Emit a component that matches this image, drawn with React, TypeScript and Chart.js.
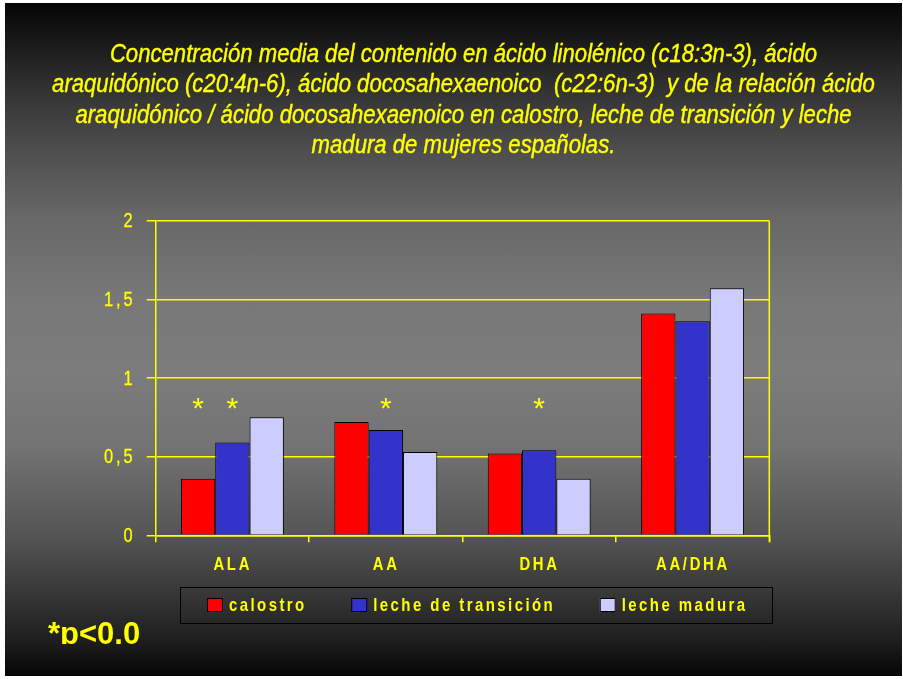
import React, { useEffect, useRef } from "react";
import { Chart, registerables } from "chart.js";

Chart.register(...registerables);

const categories = ["ALA", "AA", "DHA", "AA/DHA"];
const seriesNames = ["calostro", "leche de transición", "leche madura"];
const calostro = [0.36, 0.72, 0.52, 1.41];
const transicion = [0.59, 0.67, 0.54, 1.36];
const madura = [0.75, 0.53, 0.36, 1.57];
const seriesColors = ["#ff0000", "#3333cc", "#ccccff"];
const yTickValues = [0, 0.5, 1, 1.5, 2];
// significance markers: [category index, series index]
const markers: [number, number][] = [
  [0, 0],
  [0, 1],
  [1, 1],
  [2, 1],
];
const markerLevel = 0.85;
const titleLines = [
  "Concentración media del contenido en ácido linolénico (c18:3n-3), ácido",
  "araquidónico (c20:4n-6), ácido docosahexaenoico  (c22:6n-3)  y de la relación ácido",
  "araquidónico / ácido docosahexaenoico en calostro, leche de transición y leche",
  "madura de mujeres españolas.",
];
const footnote = "*p<0.0";

const YEL = "#ffff00";
const W = 897;
const H = 673;

function drawText(
  ctx: CanvasRenderingContext2D,
  s: string,
  x: number,
  y: number,
  font: string,
  align: "left" | "center" | "right",
  sx: number,
  ls: number,
  color: string,
  baseline: CanvasTextBaseline = "middle",
  stroke = 0
) {
  ctx.save();
  ctx.font = font;
  (ctx as any).letterSpacing = ls + "px";
  ctx.textBaseline = baseline;
  ctx.textAlign = "left";
  const w = (ctx.measureText(s).width - ls) * sx;
  let left = x;
  if (align === "center") left = x - w / 2;
  else if (align === "right") left = x - w;
  ctx.translate(left, y);
  ctx.scale(sx, 1);
  ctx.fillStyle = color;
  ctx.fillText(s, 0, 0);
  if (stroke > 0) {
    ctx.strokeStyle = color;
    ctx.lineWidth = stroke;
    ctx.strokeText(s, 0, 0);
  }
  ctx.restore();
  return w;
}

const fmt = (v: number) => String(v).replace(".", ",");

const decorPlugin = {
  id: "decor",
  afterDraw(chart: any) {
    const ctx: CanvasRenderingContext2D = chart.ctx;
    const { right, top, bottom } = chart.chartArea;
    const xs = chart.scales.x;
    const ys = chart.scales.y;

    // title
    titleLines.forEach((line, i) => {
      drawText(ctx, line, 458.5, 52 + i * 30.3, "italic 25px 'Liberation Sans'", "center", 0.885, 0, YEL, "middle", 0.4);
    });

    // right border of plot area
    ctx.save();
    ctx.strokeStyle = YEL;
    ctx.lineWidth = 1.5;
    ctx.beginPath();
    ctx.moveTo(right, top);
    ctx.lineTo(right, bottom + 7);
    ctx.stroke();
    ctx.restore();

    // y tick labels
    yTickValues.forEach((v) => {
      drawText(ctx, fmt(v), 127.5, ys.getPixelForValue(v) + 1, "20px 'Liberation Sans'", "right", 0.82, 3.5, YEL, "middle", 0.3);
    });

    // x labels
    categories.forEach((c, i) => {
      drawText(ctx, c, xs.getPixelForValue(i) - 1, bottom + 29, "bold 19px 'Liberation Sans'", "center", 0.78, 3.5, YEL);
    });

    // significance markers
    markers.forEach(([ci, di]) => {
      const bar = chart.getDatasetMeta(di).data[ci];
      drawText(ctx, "*", bar.x, ys.getPixelForValue(markerLevel) + 16, "30px 'Liberation Sans'", "center", 1, 0, YEL, "alphabetic");
    });

    // legend box
    const bx = 175, by = 584, bw = 592, bh = 36;
    ctx.save();
    ctx.strokeStyle = "#000";
    ctx.lineWidth = 1;
    ctx.strokeRect(bx + 0.5, by + 0.5, bw, bh);
    ctx.restore();
    const lfont = "bold 18.5px 'Liberation Sans'";
    const lsx = 0.81, lls = 3, sw = 16, sh = 14, gap1 = 6, gap2 = 47;
    ctx.save();
    ctx.font = lfont;
    (ctx as any).letterSpacing = lls + "px";
    const widths = seriesNames.map((n) => (ctx.measureText(n).width - lls) * lsx);
    ctx.restore();
    const total = widths.reduce((a, b) => a + b, 0) + seriesNames.length * (sw + gap1) + (seriesNames.length - 1) * gap2;
    let cx = bx + bw / 2 - total / 2;
    const cy = by + bh / 2;
    seriesNames.forEach((n, i) => {
      ctx.save();
      ctx.fillStyle = seriesColors[i];
      ctx.fillRect(cx, cy - sh / 2, sw, sh);
      ctx.strokeStyle = "#000";
      ctx.lineWidth = 1;
      ctx.strokeRect(cx + 0.5, cy - sh / 2 + 0.5, sw - 1, sh - 1);
      ctx.restore();
      cx += sw + gap1;
      drawText(ctx, n, cx, cy + 1, lfont, "left", lsx, lls, YEL);
      cx += widths[i] + gap2;
    });

    // footnote, clipped at bottom
    ctx.save();
    ctx.beginPath();
    ctx.rect(0, 600, 300, 41);
    ctx.clip();
    drawText(ctx, footnote, 43, 641, "bold 31px 'Liberation Sans'", "left", 1, 0, YEL, "alphabetic");
    ctx.restore();
  },
};

export default function App() {
  const ref = useRef<HTMLCanvasElement>(null);
  useEffect(() => {
    const canvas = ref.current!;
    const mk = (label: string, data: number[], color: string) => ({
      label,
      data,
      backgroundColor: color,
      borderColor: "#000",
      borderWidth: 1,
      categoryPercentage: 0.671,
      barPercentage: 1,
    });
    const chart = new Chart(canvas, {
      type: "bar",
      data: {
        labels: categories,
        datasets: [
          mk(seriesNames[0], calostro, seriesColors[0]),
          mk(seriesNames[1], transicion, seriesColors[1]),
          mk(seriesNames[2], madura, seriesColors[2]),
        ],
      },
      options: {
        responsive: false,
        maintainAspectRatio: false,
        animation: false,
        devicePixelRatio: 1,
        layout: { padding: { left: 0, right: 132.7, top: 217.7, bottom: 0 } },
        plugins: {
          legend: { display: false },
          title: { display: false },
          tooltip: { enabled: false },
        },
        scales: {
          x: {
            grid: { display: true, drawOnChartArea: false, drawTicks: true, tickLength: 7, color: YEL, lineWidth: 1.5, offset: true },
            border: { color: YEL, width: 1.5 },
            ticks: { display: false },
            afterFit: (s: any) => {
              s.height = 140.7;
            },
          },
          y: {
            min: 0,
            max: 2,
            ticks: { display: false, stepSize: 0.5 },
            grid: { color: YEL, lineWidth: 1.5, tickLength: 9, drawTicks: true },
            border: { color: YEL, width: 1.5 },
            afterFit: (s: any) => {
              s.width = 150.7;
            },
          },
        },
      } as any,
      plugins: [decorPlugin],
    });
    return () => chart.destroy();
  }, []);

  return (
    <div
      style={{
        position: "absolute",
        left: 5,
        top: 3,
        width: W,
        height: H,
        background:
          "linear-gradient(to bottom, #050505 0%, #1a1a1a 6%, #333333 13%, #4e4e4e 22%, #686868 32%, #787878 44%, #7c7c7c 55%, #737373 66%, #555555 79%, #3d3d3d 86%, #1d1d1d 95%, #050505 100%)",
      }}
    >
      <canvas ref={ref} width={W} height={H} style={{ width: W, height: H, display: "block" }} />
    </div>
  );
}
